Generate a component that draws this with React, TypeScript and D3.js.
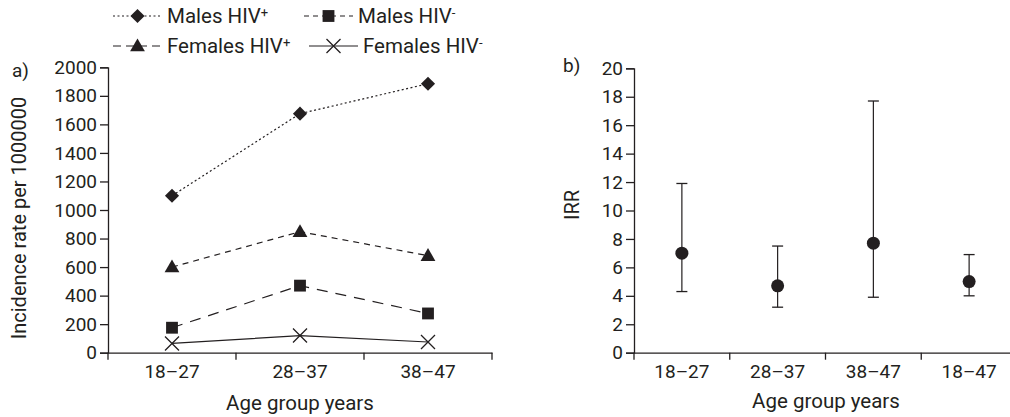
import React, { useEffect, useRef } from 'react';
import * as d3 from 'd3';

const ageGroups = ['18–27', '28–37', '38–47'];
const malesPos = [1100, 1675, 1885];
const malesNeg = [175, 470, 275];
const femalesPos = [600, 848, 680];
const femalesNeg = [65, 120, 75];
const yTicksA = [0, 200, 400, 600, 800, 1000, 1200, 1400, 1600, 1800, 2000];

const irrGroups = ['18–27', '28–37', '38–47', '18–47'];
const irrValue = [7.0, 4.7, 7.7, 5.0];
const irrLow = [4.3, 3.2, 3.9, 4.0];
const irrHigh = [11.9, 7.5, 17.7, 6.9];
const yTicksB = [0, 2, 4, 6, 8, 10, 12, 14, 16, 18, 20];

const INK = '#231f20';
const FONT = 'Roboto, "DejaVu Sans", sans-serif';

const series = [
  { name: 'Males HIV', sup: '+', values: malesPos, dash: '2,2.5', legendDash: '2,2.5', marker: 'diamond' },
  { name: 'Males HIV', sup: '-', values: malesNeg, dash: '11,8', legendDash: '5,4', marker: 'square' },
  { name: 'Females HIV', sup: '+', values: femalesPos, dash: '6,5', legendDash: '8,5', marker: 'triangle' },
  { name: 'Females HIV', sup: '-', values: femalesNeg, dash: null, legendDash: null, marker: 'x' },
];

function drawMarker(g, kind, x, y) {
  if (kind === 'diamond') {
    g.append('path').attr('d', d3.symbol(d3.symbolSquare, 100)())
      .attr('transform', `translate(${x},${y}) rotate(45)`).attr('fill', INK);
  } else if (kind === 'square') {
    g.append('path').attr('d', d3.symbol(d3.symbolSquare, 140)())
      .attr('transform', `translate(${x},${y})`).attr('fill', INK);
  } else if (kind === 'triangle') {
    g.append('path').attr('d', d3.symbol(d3.symbolTriangle, 95)())
      .attr('transform', `translate(${x},${y + 1})`).attr('fill', INK);
  } else {
    const h = 7;
    g.append('path')
      .attr('d', `M${x - h},${y - h}L${x + h},${y + h}M${x - h},${y + h}L${x + h},${y - h}`)
      .attr('stroke', INK).attr('stroke-width', 1.3).attr('fill', 'none');
  }
}

const App = () => {
  const ref = useRef(null);

  useEffect(() => {
    const svg = d3.select(ref.current);
    svg.selectAll('*').remove();
    svg.style('font-family', FONT);

    // ---------- panel a ----------
    const xa = d3.scaleBand().domain(ageGroups).range([108, 492]);
    const ya = d3.scaleLinear().domain([0, 2000]).range([352.7, 67.3]);

    const ga = svg.append('g');
    const yAxisA = ga.append('g').attr('transform', 'translate(108,0)')
      .call(d3.axisLeft(ya).tickValues(yTicksA).tickSize(8).tickPadding(3).tickFormat(d3.format('d')));
    const xAxisA = ga.append('g').attr('transform', 'translate(0,352.7)')
      .call(d3.axisBottom(xa).tickSize(0).tickPadding(12));
    // band boundary ticks
    const boundsA = [...ageGroups.map(d => xa(d)), xa.range()[1]];
    boundsA.forEach(b => {
      xAxisA.append('line').attr('x1', b).attr('x2', b).attr('y1', 0).attr('y2', 7)
        .attr('stroke', INK).attr('stroke-width', 1.3);
    });
    [yAxisA, xAxisA].forEach(ax => {
      ax.select('.domain').attr('stroke', INK).attr('stroke-width', 1.3);
      ax.selectAll('.tick line').attr('stroke', INK).attr('stroke-width', 1.3);
      ax.selectAll('text').attr('fill', INK).style('font-size', '19px').style('font-family', FONT);
    });

    const line = d3.line()
      .x((d, i) => xa(ageGroups[i]) + xa.bandwidth() / 2)
      .y(d => ya(d));

    series.forEach(s => {
      ga.append('path').attr('d', line(s.values)).attr('fill', 'none')
        .attr('stroke', INK).attr('stroke-width', 1.2)
        .attr('stroke-dasharray', s.dash);
      s.values.forEach((v, i) => drawMarker(ga, s.marker, xa(ageGroups[i]) + xa.bandwidth() / 2, ya(v)));
    });

    ga.append('text').attr('x', 12).attr('y', 77).text('a)').attr('fill', INK).style('font-size', '19px');
    ga.append('text').attr('transform', 'translate(26,218) rotate(-90)').attr('text-anchor', 'middle')
      .text('Incidence rate per 1000000').attr('fill', INK).style('font-size', '20px');
    ga.append('text').attr('x', 300).attr('y', 410).attr('text-anchor', 'middle')
      .text('Age group years').attr('fill', INK).style('font-size', '20.5px');

    // legend
    const legendPos = [[113, 16], [304, 16], [113, 46], [309, 46]];
    series.forEach((s, i) => {
      const [lx, ly] = legendPos[i];
      const lg = svg.append('g');
      lg.append('line').attr('x1', lx).attr('x2', lx + 49).attr('y1', ly).attr('y2', ly)
        .attr('stroke', INK).attr('stroke-width', 1.2).attr('stroke-dasharray', s.legendDash);
      drawMarker(lg, s.marker, lx + 24.5, ly);
      const t = lg.append('text').attr('x', lx + 54).attr('y', ly + 7).attr('fill', INK).style('font-size', '20.5px');
      t.append('tspan').text(s.name);
      t.append('tspan').attr('dy', -6).style('font-size', '13px').text(s.sup);
    });

    // ---------- panel b ----------
    const xb = d3.scaleBand().domain(irrGroups).range([634, 1017]);
    const yb = d3.scaleLinear().domain([0, 20]).range([352.7, 68.3]);
    const gb = svg.append('g');
    const yAxisB = gb.append('g').attr('transform', 'translate(634,0)')
      .call(d3.axisLeft(yb).tickValues(yTicksB).tickSize(8).tickPadding(3));
    const xAxisB = gb.append('g').attr('transform', 'translate(0,352.7)')
      .call(d3.axisBottom(xb).tickSize(0).tickPadding(12));
    const boundsB = [...irrGroups.map(d => xb(d)), xb.range()[1]];
    boundsB.forEach(b => {
      xAxisB.append('line').attr('x1', b).attr('x2', b).attr('y1', 0).attr('y2', 7)
        .attr('stroke', INK).attr('stroke-width', 1.3);
    });
    [yAxisB, xAxisB].forEach(ax => {
      ax.select('.domain').attr('stroke', INK).attr('stroke-width', 1.3);
      ax.selectAll('.tick line').attr('stroke', INK).attr('stroke-width', 1.3);
      ax.selectAll('text').attr('fill', INK).style('font-size', '19px').style('font-family', FONT);
    });

    irrGroups.forEach((g, i) => {
      const cx = xb(g) + xb.bandwidth() / 2;
      gb.append('line').attr('x1', cx).attr('x2', cx).attr('y1', yb(irrLow[i])).attr('y2', yb(irrHigh[i]))
        .attr('stroke', INK).attr('stroke-width', 1.2);
      [irrLow[i], irrHigh[i]].forEach(v => {
        gb.append('line').attr('x1', cx - 5.5).attr('x2', cx + 5.5).attr('y1', yb(v)).attr('y2', yb(v))
          .attr('stroke', INK).attr('stroke-width', 1.3);
      });
      gb.append('circle').attr('cx', cx).attr('cy', yb(irrValue[i])).attr('r', 6.5).attr('fill', INK);
    });

    gb.append('text').attr('x', 563).attr('y', 72).text('b)').attr('fill', INK).style('font-size', '19px');
    gb.append('text').attr('transform', 'translate(579,205) rotate(-90)').attr('text-anchor', 'middle')
      .text('IRR').attr('fill', INK).style('font-size', '20px');
    gb.append('text').attr('x', 826).attr('y', 408).attr('text-anchor', 'middle')
      .text('Age group years').attr('fill', INK).style('font-size', '20.5px');
  }, []);

  return (
    <svg ref={ref} width={1010} height={417}
      style={{ position: 'absolute', left: 0, top: 0, background: '#fff' }} />
  );
};

export default App;
